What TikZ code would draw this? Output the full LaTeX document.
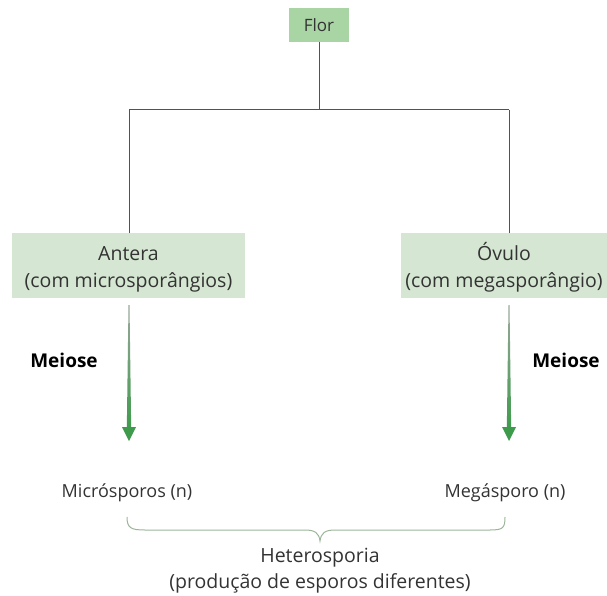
\documentclass[tikz,border=0pt]{standalone}
\usepackage{fontspec}
\setmainfont{Open Sans}
\definecolor{topbox}{HTML}{A9D4A4}
\definecolor{midbox}{HTML}{D5E7D2}
\definecolor{txt}{HTML}{333333}
\definecolor{arrgreen}{HTML}{3E9B4C}
\definecolor{arrgray}{HTML}{9AA79C}
\definecolor{bracec}{HTML}{9CB59A}
\newcommand{\firstline}[1]{\rule{0pt}{22pt}\smash{#1}}
\begin{document}
\begin{tikzpicture}[x=1pt,y=-1pt,
  boxa/.style={fill=topbox,draw=none,text=txt,minimum width=60pt,minimum height=34pt,inner sep=0pt,font=\fontsize{17}{18}\selectfont},
  boxb/.style={fill=midbox,draw=none,text=txt,minimum height=65pt,inner sep=0pt,align=center,font=\fontsize{19.5}{27}\selectfont},
  lbl/.style={text=txt,inner sep=0pt,align=center,font=\fontsize{18}{25}\selectfont},
  het/.style={text=txt,inner sep=0pt,align=center,font=\fontsize{19.5}{26}\selectfont},
  mei/.style={text=black,inner sep=0pt,font=\bfseries\fontsize{19}{20}\selectfont},
  conn/.style={draw=txt!85,line width=1pt}]
\useasboundingbox (0,0) rectangle (607,596);
\node[boxa] (flor) at (319,25) {Flor};
\node[boxb,minimum width=233pt] (antera) at (128.5,265.5) {\firstline{Antera}\\(com microsporângios)};
\node[boxb,minimum width=206pt] (ovulo) at (504,265.5) {\firstline{Óvulo}\\(com megasporângio)};
\coordinate (j) at (319,110);
\coordinate (aj) at (129,110);
\coordinate (oj) at (509,110);
\draw[conn] (flor.south) -- (j);
\draw[conn] (aj) -- (oj);
\draw[conn] (aj) -- (aj |- antera.north);
\draw[conn] (oj) -- (oj |- ovulo.north);
% arrows
\foreach \xx/\nm in {129/la,509/ra}{
  \coordinate (\nm t) at (\xx,305);
  \shade[top color=arrgray,bottom color=arrgreen] (\xx-0.5,305) -- (\xx+0.5,305) -- (\xx+2.2,430) -- (\xx-2.2,430) -- cycle;
  \fill[arrgreen] (\xx-7,427) -- (\xx+7,427) -- (\xx,441) -- cycle;
}
\node[mei] (m1) at (64,360) {Meiose};
\node[mei] (m2) at (566,360) {Meiose};
\node[lbl] (mic) at (127,493) {Micrósporos (n)};
\node[lbl] (meg) at (505,493) {Megásporo (n)};
\draw[bracec,line width=1pt] (127,517) .. controls (127,528) and (131,530) .. (145,530)
  -- (305,530) .. controls (315,530) and (319,533) .. (320,541)
  .. controls (321,533) and (325,530) .. (335,530)
  -- (490,530) .. controls (503,530) and (505,528) .. (505,517);
\node[het] (hetero) at (320,571) {Heterosporia\\(produção de esporos diferentes)};
\end{tikzpicture}
\end{document}
